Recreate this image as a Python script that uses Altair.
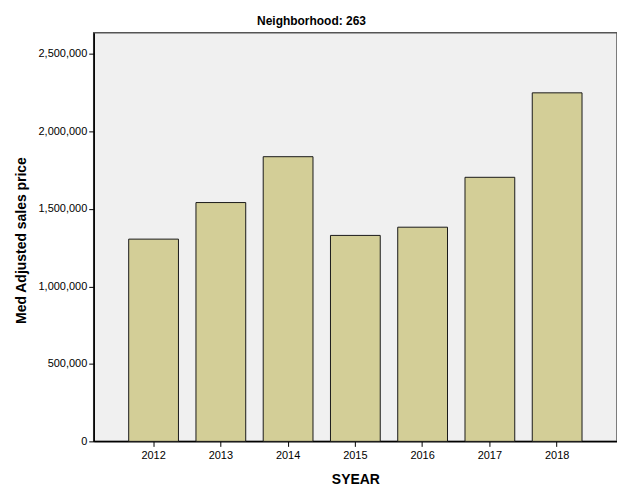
import altair as alt
import pandas as pd

years = ["2012", "2013", "2014", "2015", "2016", "2017", "2018"]
prices = [1305000, 1541000, 1837000, 1329000, 1382000, 1704000, 2249000]
y_ticks = [0, 500000, 1000000, 1500000, 2000000, 2500000]

df = pd.DataFrame({"SYEAR": years, "price": prices})

chart = alt.Chart(df).mark_bar(
    fill="#D3CE97", stroke="#1a1a1a", strokeWidth=1
).encode(
    x=alt.X("SYEAR:N", sort=years,
            scale=alt.Scale(paddingInner=0.26, paddingOuter=0.52),
            axis=alt.Axis(title="SYEAR", labelAngle=0, labelFontSize=11,
                          labelFont="Liberation Sans", labelColor="#000",
                          labelPadding=3, tickSize=5, tickColor="#000",
                          domainColor="#000", domainWidth=1.5,
                          titleFont="Liberation Sans", titleFontSize=14,
                          titleFontWeight="bold", titleColor="#000",
                          titleY=38, titleBaseline="middle")),
    y=alt.Y("price:Q",
            scale=alt.Scale(domain=[0, 2637000], nice=False),
            axis=alt.Axis(title="Med Adjusted sales price", values=y_ticks,
                          format=",d", labelFontSize=11,
                          labelFont="Liberation Sans", labelColor="#000",
                          labelPadding=2, tickSize=5, tickColor="#000",
                          domainColor="#000", domainWidth=1.5, grid=False,
                          titleFont="Liberation Sans", titleFontSize=14,
                          titleFontWeight="bold", titleColor="#000",
                          titleX=-72, titleY=208, titleAngle=-90,
                          titleBaseline="middle", titleAlign="center")),
).properties(
    width=525, height=410,
    background="white",
    title=alt.TitleParams("Neighborhood: 263", font="Liberation Sans",
                          fontSize=12, fontWeight="bold", color="#000",
                          dx=-44, offset=5),
    autosize=alt.AutoSizeParams(type="none"),
    padding={"left": 86, "top": 24, "right": 0, "bottom": 50},
).configure_view(
    fill="#F0F0F0", stroke="#555555", strokeWidth=1.5
)

chart.save("out.html", embed_options={"renderer": "svg", "actions": False})
